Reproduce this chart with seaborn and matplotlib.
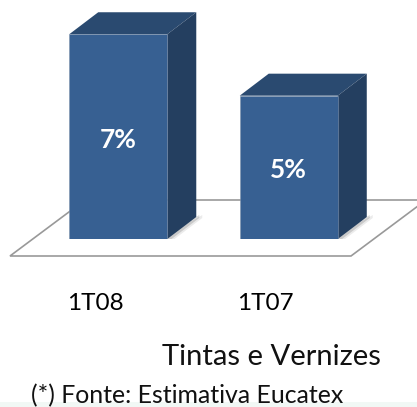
import pandas as pd
import matplotlib
matplotlib.use('Agg')
import matplotlib.pyplot as plt
from matplotlib.patches import Polygon, Rectangle
from matplotlib.transforms import IdentityTransform, ScaledTranslation
import seaborn as sns

periods = ['1T08', '1T07']
shares = [7.0, 4.9]
value_labels = ['7%', '5%']
chart_title = 'Tintas e Vernizes'
source_note = '(*) Fonte: Estimativa Eucatex'

W, H = 417, 407
FRONT = '#376092'
TOP = '#2a4a70'
SIDE = '#243f60'
DX, DY = 29, 22

sns.set_theme(style='white')
plt.rcParams['font.family'] = ['Lato', 'DejaVu Sans']

df = pd.DataFrame({'period': periods, 'share': shares})

fig = plt.figure(figsize=(W / 100, H / 100), dpi=100, facecolor='white')
ax = fig.add_axes([33 / W, (H - 239) / H, 341 / W, 234 / H])
ax.patch.set_alpha(0)

sns.barplot(data=df, x='period', y='share', color=FRONT, saturation=1, width=0.575,
            edgecolor='#7f93ad', linewidth=0.4, ax=ax, zorder=5)
ax.set_xlim(-0.5, 1.5)
ax.set_ylim(0, 8)
ax.set_xlabel('')
ax.set_ylabel('')
ax.set_yticks([])
ax.tick_params(axis='x', length=0, pad=39, labelsize=17.5, labelcolor='black')
sns.despine(ax=ax, left=True, bottom=True)

# labels sit left of the bar centres in the original
shift = ScaledTranslation(-23 / 100, 0, fig.dpi_scale_trans)
for tick in ax.get_xticklabels():
    tick.set_transform(tick.get_transform() + shift)


def px(x, y):
    # picture coords (y from the top) to display coords
    return (x, H - y)


# floor plate behind the bars
fig.add_artist(Polygon([px(10, 256), px(351, 256), px(426, 200), px(85, 200)], closed=True,
                       facecolor='white', edgecolor='#999999', linewidth=1.2,
                       transform=IdentityTransform(), zorder=0))

# pale strip along the bottom of the picture
fig.add_artist(Rectangle(px(0, 407), W, 5, facecolor='#f1f8f5', edgecolor='none',
                         transform=IdentityTransform(), zorder=0))

for patch, label in zip(ax.patches, value_labels):
    box = patch.get_window_extent(fig.canvas.get_renderer())
    x0, x1, y0, y1 = box.x0, box.x1, box.y0, box.y1
    # soft shadow at the foot of the bar
    for grow, alpha in [(6, 0.08), (3, 0.14)]:
        ax.add_patch(Polygon([(x0 - grow, y0 - 1), (x1 + grow, y0 - 1),
                              (x1 + DX + grow, y0 + DY - 1), (x1 + DX + grow, y0 + DY + 2), (x1, y0 + 4)],
                             closed=True, facecolor='black', edgecolor='none', alpha=alpha,
                             transform=IdentityTransform(), zorder=3))
    ax.add_patch(Polygon([(x0, y1), (x1, y1), (x1 + DX, y1 + DY), (x0 + DX, y1 + DY)], closed=True,
                         facecolor=TOP, edgecolor='none', transform=IdentityTransform(),
                         zorder=4, clip_on=False))
    ax.add_patch(Polygon([(x1, y0), (x1 + DX, y0 + DY), (x1 + DX, y1 + DY), (x1, y1)], closed=True,
                         facecolor=SIDE, edgecolor='none', transform=IdentityTransform(),
                         zorder=4, clip_on=False))
    ax.text((x0 + x1) / 2, (y0 + y1) / 2 - 3, label, transform=IdentityTransform(), ha='center',
            va='center', color='white', fontsize=19, fontweight='bold', zorder=6)

fig.text(271 / W, (H - 357) / H, chart_title, ha='center', va='center', fontsize=21, color='#111111')
fig.text(31 / W, (H - 396) / H, source_note, ha='left', va='center', fontsize=17.9, color='#111111')

fig.savefig('out.png', dpi=100, facecolor='white')
